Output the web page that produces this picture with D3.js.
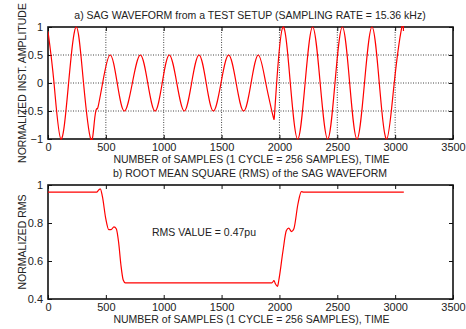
<!DOCTYPE html>
<html>
<head>
<meta charset="utf-8">
<script src="https://cdn.jsdelivr.net/npm/d3@7"></script>
<style>
  body { margin: 0; background: #fff; }
  svg text { font-family: "Liberation Sans", Arial, sans-serif; fill: #222; }
</style>
</head>
<body>
<svg id="chart" width="466" height="329"></svg>
<script>
// 波形关键点 (sample, normalized amplitude)
const waveSamples = [0, 52, 112, 178, 245, 307, 369, 400, 420, 432, 472, 536, 598, 660, 729, 798, 862, 925, 987, 1048,
  1113, 1178, 1241, 1305, 1367, 1429, 1495, 1561, 1626, 1691, 1755, 1818, 1882, 1940, 1956, 1976, 2031, 2094,
  2158, 2222, 2287, 2352, 2417, 2480, 2544, 2607, 2670, 2735, 2800, 2863, 2927, 2992, 3057, 3072]
const waveValues = [0.92, 0, -1, 0, 1, 0, -1, -0.7, -0.46, -0.43, 0, 0.5, 0, -0.5, 0, 0.5, 0, -0.5, 0, 0.5,
  0, -0.5, 0, 0.5, 0, -0.5, 0, 0.5, 0, -0.5, 0, 0.5, 0, -0.55, -0.61, 0, 1, 0,
  -1, 0, 1, 0, -1, 0, 1, 0, -1, 0, 1, 0, -1, 0, 0.99, 0.93]

// RMS 曲线关键点
const rmsSamples = [0, 420, 440, 452, 470, 500, 525, 545, 570, 590, 610, 630, 650, 668, 1935, 1953, 1965, 1983,
  1995, 2030, 2060, 2080, 2105, 2125, 2160, 2190, 2210, 3075]
const rmsValues = [0.962, 0.962, 0.975, 0.98, 0.94, 0.82, 0.765, 0.765, 0.78, 0.77, 0.7, 0.58, 0.5, 0.485, 0.485, 0.497, 0.48, 0.466,
  0.5, 0.65, 0.76, 0.773, 0.755, 0.77, 0.9, 0.965, 0.962, 0.962]

const xTicks = [0, 500, 1000, 1500, 2000, 2500, 3000, 3500]
const waveTicks = [-1, -0.5, 0, 0.5, 1]
const rmsTicks = [0.4, 0.6, 0.8, 1]

const titleA = 'a) SAG WAVEFORM from a TEST SETUP (SAMPLING RATE = 15.36 kHz)'
const titleB = 'b) ROOT MEAN SQUARE (RMS) of the SAG WAVEFORM'
const xLabel = 'NUMBER of SAMPLES (1 CYCLE = 256 SAMPLES), TIME'
const yLabelA = 'NORMALIZED INST. AMPLITUDE'
const yLabelB = 'NORMALIZED RMS'
const note = 'RMS VALUE = 0.47pu'

const svg = d3.select('#chart')
const left = 48, right = 453

function drawPanel(opt) {
  const { id, top, bottom, yDomain, yTicks, xs, ys, curve, grid, title, yLabel } = opt
  const x = d3.scaleLinear().domain([0, 3500]).range([left, right])
  const y = d3.scaleLinear().domain(yDomain).range([bottom, top])
  const g = svg.append('g')

  svg.append('clipPath').attr('id', `clip-${id}`).append('rect')
    .attr('x', left).attr('y', top - 1).attr('width', right - left).attr('height', bottom - top + 2)

  // 网格线
  if (grid) {
    g.append('g').selectAll('line').data(xTicks.slice(1, -1)).join('line')
      .attr('x1', d => x(d)).attr('x2', d => x(d)).attr('y1', top).attr('y2', bottom)
      .attr('stroke', '#444').attr('stroke-width', 1).attr('stroke-dasharray', '1,1.5')
    g.append('g').selectAll('line').data(yTicks.slice(1, -1)).join('line')
      .attr('y1', d => y(d)).attr('y2', d => y(d)).attr('x1', left).attr('x2', right)
      .attr('stroke', '#444').attr('stroke-width', 1).attr('stroke-dasharray', '1,1.5')
  }

  // 坐标轴 (刻度朝内)
  const axB = g.append('g').attr('transform', `translate(0,${bottom})`)
    .call(d3.axisBottom(x).tickValues(xTicks).tickSizeInner(-4).tickSizeOuter(0).tickPadding(4).tickFormat(d3.format('d')))
  const axT = g.append('g').attr('transform', `translate(0,${top})`)
    .call(d3.axisTop(x).tickValues(xTicks).tickSizeInner(-4).tickSizeOuter(0).tickFormat(''))
  const axL = g.append('g').attr('transform', `translate(${left},0)`)
    .call(d3.axisLeft(y).tickValues(yTicks).tickSizeInner(-4).tickSizeOuter(0).tickPadding(5).tickFormat(d3.format('')))
  const axR = g.append('g').attr('transform', `translate(${right},0)`)
    .call(d3.axisRight(y).tickValues(yTicks).tickSizeInner(-4).tickSizeOuter(0).tickFormat(''))
  ;[axB, axT, axL, axR].forEach(a => {
    a.select('.domain').remove()
    a.selectAll('line').attr('stroke', '#111')
    a.selectAll('text').attr('font-size', 11).attr('fill', '#222')
      .style('font-family', '"Liberation Sans", Arial, sans-serif')
  })

  g.append('rect').attr('x', left).attr('y', top).attr('width', right - left).attr('height', bottom - top)
    .attr('fill', 'none').attr('stroke', '#111').attr('stroke-width', 1.6)

  const line = d3.line().x(d => x(d[0])).y(d => y(d[1])).curve(curve)
  g.append('path').datum(d3.zip(xs, ys)).attr('d', line)
    .attr('clip-path', `url(#clip-${id})`)
    .attr('fill', 'none').attr('stroke', '#ff0000').attr('stroke-width', 1.2)

  g.append('text').attr('x', 250).attr('y', top - 8).attr('text-anchor', 'middle')
    .attr('font-size', 10.5).text(title)
  g.append('text').attr('x', (left + right) / 2 + 1).attr('y', bottom + 24).attr('text-anchor', 'middle')
    .attr('font-size', 10.5).text(xLabel)
  g.append('text').attr('transform', `translate(26,${(top + bottom) / 2}) rotate(-90)`)
    .attr('text-anchor', 'middle').attr('font-size', 10.5).text(yLabel)
  return { x, y, g }
}

drawPanel({ id: 'a', top: 27, bottom: 139, yDomain: [-1, 1], yTicks: waveTicks, xs: waveSamples, ys: waveValues,
  curve: d3.curveNatural, grid: true, title: titleA, yLabel: yLabelA })

const b = drawPanel({ id: 'b', top: 185, bottom: 299, yDomain: [0.4, 1], yTicks: rmsTicks, xs: rmsSamples, ys: rmsValues,
  curve: d3.curveMonotoneX, grid: false, title: titleB, yLabel: yLabelB })

b.g.append('text').attr('x', 152).attr('y', 236).attr('font-size', 10.5).text(note)
</script>
</body>
</html>
